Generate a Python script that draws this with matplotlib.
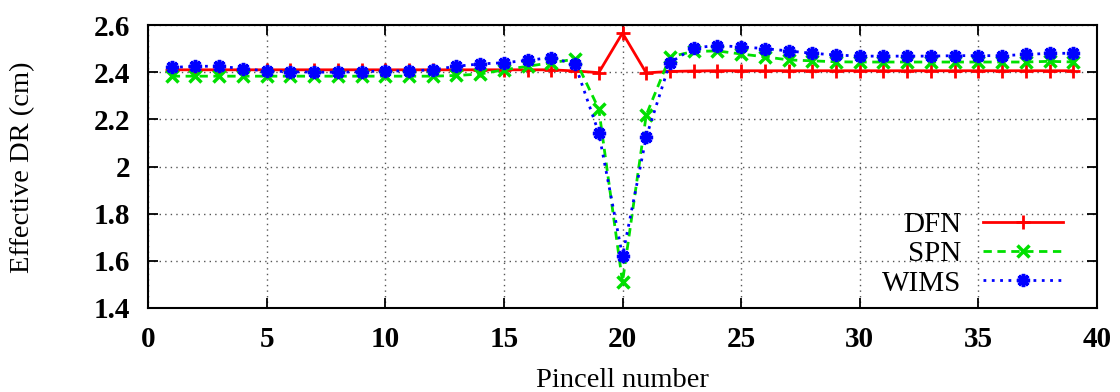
import matplotlib
matplotlib.use("Agg")
import matplotlib.pyplot as plt
import numpy as np

pincell = list(range(1, 40))

dfn = [2.41, 2.41, 2.41, 2.41, 2.41, 2.41, 2.41, 2.41, 2.41, 2.41,
       2.41, 2.41, 2.41, 2.41, 2.41, 2.41, 2.41, 2.405, 2.398, 2.566,
       2.397, 2.403, 2.405, 2.406, 2.406, 2.406, 2.406, 2.406, 2.406, 2.406,
       2.406, 2.406, 2.406, 2.406, 2.406, 2.406, 2.406, 2.406, 2.406]

spn = [2.383, 2.383, 2.383, 2.383, 2.383, 2.383, 2.383, 2.383, 2.383, 2.383,
       2.383, 2.383, 2.386, 2.392, 2.41, 2.425, 2.44, 2.455, 2.244, 1.51,
       2.218, 2.465, 2.488, 2.49, 2.477, 2.465, 2.452, 2.448, 2.444, 2.443,
       2.443, 2.443, 2.443, 2.443, 2.443, 2.443, 2.443, 2.446, 2.443]

wims = [2.42, 2.425, 2.425, 2.415, 2.405, 2.402, 2.40, 2.40, 2.402, 2.405,
        2.405, 2.41, 2.425, 2.435, 2.44, 2.45, 2.462, 2.433, 2.142, 1.62,
        2.125, 2.44, 2.503, 2.513, 2.507, 2.50, 2.49, 2.48, 2.473, 2.468,
        2.468, 2.468, 2.468, 2.47, 2.47, 2.47, 2.475, 2.48, 2.48]

xticks = [0, 5, 10, 15, 20, 25, 30, 35, 40]
yticks = [1.4, 1.6, 1.8, 2.0, 2.2, 2.4, 2.6]
ytick_labels = ['1.4', '1.6', '1.8', '2', '2.2', '2.4', '2.6']

plt.rcParams['font.family'] = ['Liberation Serif', 'DejaVu Serif']

W, H = 1120, 392
fig = plt.figure(figsize=(W / 100, H / 100), dpi=100)
ax = fig.add_axes([148 / W, 1 - 308 / H, (1097 - 148) / W, (308 - 25) / H])

ax.plot(pincell, dfn, color='#ff0000', lw=2.0, ls='-', marker='+', ms=10, mew=2.0, label='DFN')
ax.plot(pincell, spn, color='#00e000', lw=2.0, ls=(0, (3, 2)), marker='x', ms=8, mew=2.5, label='SPN')
ax.plot(pincell, wims, color='#0000ff', lw=2.0, ls=(0, (1, 2)), marker=(8, 2, 0), ms=9.5, mew=2.5, label='WIMS')

ax.set_xlim(0, 40)
ax.set_ylim(1.4, 2.6)
ax.set_xticks(xticks)
ax.set_yticks(yticks)
ax.set_yticklabels(ytick_labels)
ax.grid(True, color='#555555', ls=(0, (1, 3)), lw=1.0)
ax.tick_params(direction='in', top=True, right=True, length=7, width=1.3, labelsize=21, pad=13)
for lab in ax.get_xticklabels() + ax.get_yticklabels():
    lab.set_fontweight('bold')
for sp in ax.spines.values():
    sp.set_linewidth(1.5)

fig.text(622 / W, (H - 387) / H, 'Pincell number', fontsize=20.5, ha='center', va='baseline')
fig.text(23 / W, 1 - 167 / H, 'Effective DR (cm)', fontsize=20.5, rotation=90, ha='center', va='center')

leg = ax.legend(loc='center right', frameon=False, markerfirst=False, fontsize=21,
                handlelength=2.75, handletextpad=0.75, labelspacing=0.1,
                borderpad=0, borderaxespad=0,
                bbox_to_anchor=(1063 / W, 1 - 254 / H), bbox_transform=fig.transFigure)

fig.savefig('out.png', dpi=100)
